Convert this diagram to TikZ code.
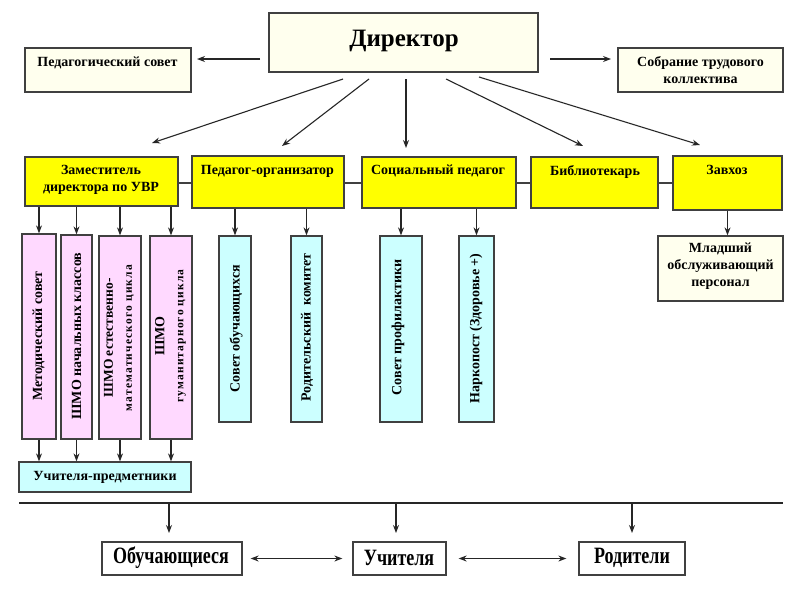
\documentclass[tikz,border=0pt]{standalone}
\usepackage{fontspec}
\setmainfont{Liberation Serif}
\usetikzlibrary{arrows.meta,calc}
\definecolor{ylw}{HTML}{FFFF00}
\definecolor{pnk}{HTML}{FFD9FF}
\definecolor{cyn}{HTML}{CCFFFF}
\definecolor{crm}{HTML}{FFFFEE}
\definecolor{bord}{HTML}{404040}
\definecolor{arrc}{HTML}{262626}
\newcommand{\smallvfont}{\fontsize{11.5}{19}\selectfont\bfseries\addfontfeature{LetterSpace=10}}
\begin{document}
\begin{tikzpicture}[x=1pt,y=-1pt,
  box/.style={draw=bord, line width=1.3pt, inner sep=0pt, rectangle},
  yb/.style={box, fill=ylw},
  pb/.style={box, fill=pnk},
  cb/.style={box, fill=cyn},
  wb/.style={box, fill=crm},
  txt/.style={font=\bfseries\fontsize{14}{17}\selectfont, align=center, inner sep=0pt, text=black},
  vtxt/.style={font=\bfseries\fontsize{14}{19}\selectfont, align=center, inner sep=0pt, rotate=90},
  ctxt/.style={font=\bfseries\fontsize{14}{16}\selectfont, inner sep=0pt, rotate=90},
  btxt/.style={font=\bfseries\fontsize{18}{20}\selectfont, inner sep=0pt},
  arr/.style={draw=arrc, line width=1.1pt, -{Stealth[length=8pt,width=6pt]}},
  darr/.style={draw=arrc, line width=1.1pt, {Stealth[length=8pt,width=6pt]}-{Stealth[length=8pt,width=6pt]}},
  conn/.style={draw=bord, line width=1.3pt}]
\useasboundingbox (0,0) rectangle (800,600);
\fill[white] (0,0) rectangle (800,600);

% top
\node[wb, minimum width=269pt, minimum height=59pt] (dir) at (403.5,42.5) {};
\node[font=\bfseries\fontsize{25}{28}\selectfont, inner sep=0pt] (dirt) at (404,41) {Директор};
\node[wb, minimum width=166pt, minimum height=44pt] (ped) at (108,70) {};
\node[txt] (pedt) at (107.5,63) {Педагогический совет};
\node[wb, minimum width=165pt, minimum height=44pt] (sob) at (700.5,70) {};
\node[txt] (sobt) at (700.5,70.5) {Собрание трудового\\коллектива};

% second row
\node[yb, minimum width=153pt, minimum height=49pt] (zam) at (101.5,181.5) {};
\node[txt] (zamt) at (101,179.5) {Заместитель\\директора по УВР};
\node[yb, minimum width=152pt, minimum height=52pt] (org) at (268,182) {};
\node[txt] (orgt) at (267.5,171) {Педагог-организатор};
\node[yb, minimum width=154pt, minimum height=51pt] (soc) at (439,182.5) {};
\node[txt] (soct) at (438,171) {Социальный педагог};
\node[yb, minimum width=127pt, minimum height=51pt] (bib) at (594.5,182.5) {};
\node[txt] (bibt) at (595,172) {Библиотекарь};
\node[yb, minimum width=109pt, minimum height=54pt] (zav) at (727.5,183) {};
\node[txt] (zavt) at (727,170) {Завхоз};

\draw[conn] (zam.east |- 0,183) -- (org.west |- 0,183);
\draw[conn] (org.east |- 0,183) -- (soc.west |- 0,183);
\draw[conn] (soc.east |- 0,183) -- (bib.west |- 0,183);
\draw[conn] (bib.east |- 0,183) -- (zav.west |- 0,183);

% director arrows
\coordinate (dl) at (260,59);
\coordinate (pl) at (197,59);
\coordinate (dr) at (550,59);
\coordinate (sr) at (611,59);
\draw[arr] (dl) -- (pl);
\draw[arr] (dr) -- (sr);
\coordinate (s1) at (343,79); \coordinate (e1) at (152,143);
\coordinate (s2) at (369,79); \coordinate (e2) at (282,146);
\coordinate (s3) at (406,79); \coordinate (e3) at (406,148);
\coordinate (s4) at (446,79); \coordinate (e4) at (583,146);
\coordinate (s5) at (479,77); \coordinate (e5) at (700,145);
\draw[arr] (s1) -- (e1);
\draw[arr] (s2) -- (e2);
\draw[arr] (s3) -- (e3);
\draw[arr] (s4) -- (e4);
\draw[arr] (s5) -- (e5);

% pink boxes
\node[pb, minimum width=34pt, minimum height=205pt] (m1) at (39,336.5) {};
\node[pb, minimum width=31pt, minimum height=204pt] (m2) at (76.5,337) {};
\node[pb, minimum width=42pt, minimum height=203pt] (m3) at (120,337.5) {};
\node[pb, minimum width=42pt, minimum height=203pt] (m4) at (171,337.5) {};
\node[vtxt] (m1t) at (38.5,336) {Методический совет};
\node[vtxt] (m2t) at (76.5,336) {ШМО начальных классов};
\node[vtxt] (m3t) at (119,338) {\fontsize{13.5}{18}\selectfont ШМО естественно-\\{\smallvfont математического цикла}};
\node[vtxt] (m4t) at (170.5,336) {ШМО\\{\smallvfont гуманитарного цикла}};
\foreach \m in {m1,m2,m3,m4} {
  \draw[arr] (\m.north |- zam.south) -- (\m.north);
}
\node[cb, minimum width=172pt, minimum height=30pt] (uch) at (105,477) {};
\node[txt] (ucht) at (105,477) {Учителя-предметники};
\foreach \m in {m1,m2,m3,m4} {
  \draw[arr] (\m.south) -- (\m.south |- uch.north);
}

% cyan boxes
\node[cb, minimum width=32pt, minimum height=186pt] (c1) at (235,329) {};
\node[cb, minimum width=31pt, minimum height=186pt] (c2) at (306.5,329) {};
\node[cb, minimum width=42pt, minimum height=186pt] (c3) at (401,329) {};
\node[cb, minimum width=35pt, minimum height=186pt] (c4) at (476.5,329) {};
\node[ctxt] (c1t) at (236,328.5) {Совет обучающихся};
\node[ctxt] (c2t) at (307,327.5) {Родительский\ \ комитет};
\node[ctxt] (c3t) at (398,327.5) {Совет профилактики};
\node[ctxt] (c4t) at (476,328.5) {Наркопост (Здоровье +)};
\draw[arr] (c1.north |- org.south) -- (c1.north);
\draw[arr] (c2.north |- org.south) -- (c2.north);
\draw[arr] (c3.north |- soc.south) -- (c3.north);
\draw[arr] (c4.north |- soc.south) -- (c4.north);

% zavhoz child
\node[wb, minimum width=125pt, minimum height=65pt] (mlad) at (720.5,268.5) {};
\node[txt] (mladt) at (720.5,266) {Младший\\обслуживающий\\персонал};
\draw[arr] (zav.south) -- (zav.south |- mlad.north);

% bottom
\coordinate (hl) at (19,503);
\coordinate (hr) at (783,503);
\draw[draw=arrc, line width=1.3pt] (hl) -- (hr);
\node[box, fill=white, minimum width=140pt, minimum height=33pt] (obu) at (172,558.5) {};
\node[box, fill=white, minimum width=93pt, minimum height=33pt] (uchi) at (399.5,558.5) {};
\node[box, fill=white, minimum width=106pt, minimum height=33pt] (rod) at (632,558.5) {};
\node[btxt] (obut) at (171,558) {\scalebox{1}[1.3]{Обучающиеся}};
\node[btxt] (uchit) at (399,558) {\scalebox{1}[1.3]{Учителя}};
\node[btxt] (rodt) at (632,558) {\scalebox{1}[1.3]{Родители}};
\coordinate (b1) at (169,503); \coordinate (t1) at (169,533);
\coordinate (b2) at (396,503); \coordinate (t2) at (396,533);
\coordinate (b3) at (632,503); \coordinate (t3) at (632,533);
\draw[arr] (b1) -- (t1);
\draw[arr] (b2) -- (t2);
\draw[arr] (b3) -- (t3);
\draw[darr] ($(obu.east)+(8,0)$) -- ($(uchi.west)+(-10,0)$);
\draw[darr] ($(uchi.east)+(12,0)$) -- ($(rod.west)+(-12,0)$);
\end{tikzpicture}
\end{document}
